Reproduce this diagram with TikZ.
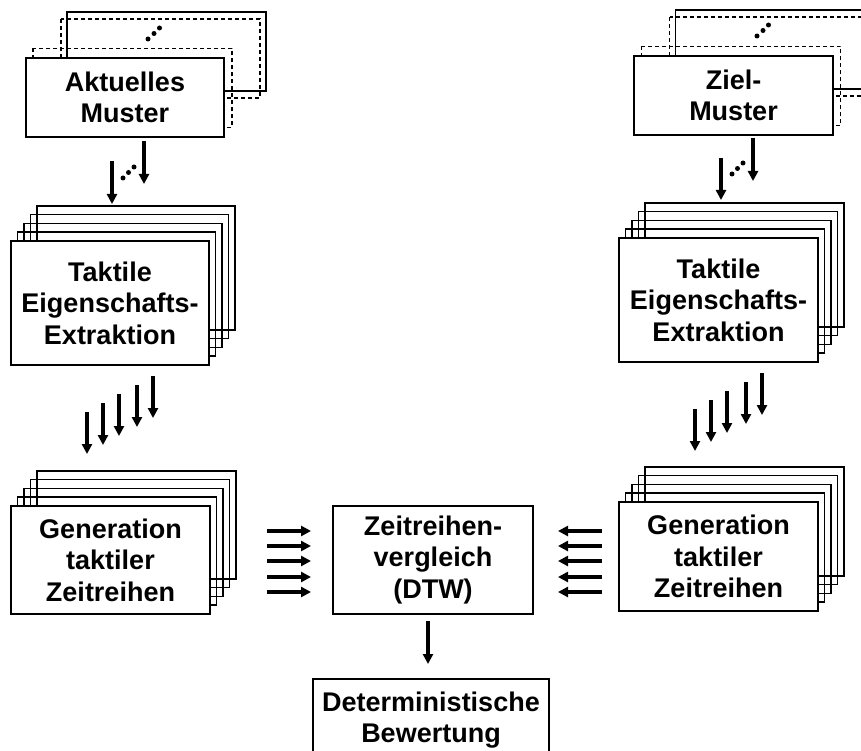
\documentclass[tikz,border=0pt]{standalone}
\usepackage{fontspec}
\setmainfont{Liberation Sans}
\usetikzlibrary{arrows.meta}
\begin{document}
\begin{tikzpicture}[x=1pt,y=-1pt,
  box/.style={draw,line width=1.6pt,fill=white,rectangle,inner sep=0pt,
    align=center,font=\bfseries\fontsize{27}{31.5}\selectfont},
  backbox/.style={draw,line width=1.6pt},
  dashbox/.style={draw,line width=1.6pt,dash pattern=on 4pt off 3pt},
  flow/.style={line width=3.6pt,-{Triangle[length=10pt,width=10pt]}},
  dot/.style={fill,circle,inner sep=0pt,minimum size=5pt}]
\useasboundingbox (0,0) rectangle (861,751);
\clip (0,0) rectangle (861,751);

% ---- pattern inputs (front box plus a dashed / solid pile behind it)
\foreach \cx/\cy in {125/97.5, 733.5/95.5}{
  \draw[dashbox] (\cx-99+7,\cy-39.5-9.5) rectangle ++(199,79);
  \draw[dashbox] (\cx-99+35,\cy-39.5-39) rectangle ++(199,79);
  \draw[backbox] (\cx-99+41,\cy-39.5-46) rectangle ++(199,79);
}
\node[box,minimum width=198pt,minimum height=79pt] (akt) at (125,97.5) {Aktuelles\\Muster};
\node[box,minimum width=199pt,minimum height=79pt] (ziel) at (733.5,95.5) {Ziel-\\Muster};
\node[dot] (d1) at (148,39) {}; \node[dot] (d2) at (154,33.5) {}; \node[dot] (d3) at (159.5,28) {};
\node[dot] (d4) at (757,36) {}; \node[dot] (d5) at (763,30.5) {}; \node[dot] (d6) at (768.5,25) {};

% ---- stacks of five sheets
\foreach \cx/\cy/\w/\h in {110/303/198/124, 718.5/300/199/124, 110.5/560/199/108, 718.5/556.5/199/109}{
  \foreach \k in {4,3,2,1}{
    \draw[backbox] (\cx-\w/2+6.5*\k,\cy-\h/2-8.8*\k) rectangle ++(\w,\h);
  }
}
\node[box,minimum width=198pt,minimum height=124pt] (tl) at (110,303) {Taktile\\Eigenschafts-\\Extraktion};
\node[box,minimum width=199pt,minimum height=124pt] (tr) at (718.5,300) {Taktile\\Eigenschafts-\\Extraktion};
\node[box,minimum width=199pt,minimum height=108pt] (gl) at (110.5,560) {Generation\\taktiler\\Zeitreihen};
\node[box,minimum width=199pt,minimum height=109pt] (gr) at (718.5,556.5) {Generation\\taktiler\\Zeitreihen};

% ---- comparison and rating
\node[box,minimum width=200pt,minimum height=108pt] (dtw) at (433,560) {Zeitreihen-\\vergleich\\(DTW)};
\node[box,minimum width=236pt,minimum height=82pt] (bew) at (431,720) {Deterministische\\Bewertung};

% ---- arrows from the pattern inputs
\coordinate (p1s) at (144,141); \coordinate (p1e) at (144,184);
\coordinate (p2s) at (112,161); \coordinate (p2e) at (112,204);
\coordinate (q1s) at (753,138); \coordinate (q1e) at (753,181);
\coordinate (q2s) at (721,158); \coordinate (q2e) at (721,200);
\draw[flow] (p1s) -- (p1e); \draw[flow] (p2s) -- (p2e);
\draw[flow] (q1s) -- (q1e); \draw[flow] (q2s) -- (q2e);
\node[dot] (e1) at (123,178) {}; \node[dot] (e2) at (128.5,172.5) {}; \node[dot] (e3) at (134,167) {};
\node[dot] (e4) at (732,174) {}; \node[dot] (e5) at (737.5,168.5) {}; \node[dot] (e6) at (743,163) {};

% ---- feature extraction to time series
\foreach \x/\y [count=\i] in {87/412, 103/403, 119/394, 137/385, 153/376}{
  \coordinate (fl\i s) at (\x,\y); \coordinate (fl\i e) at (\x,\y+42);
  \draw[flow] (fl\i s) -- (fl\i e);
}
\foreach \x/\y [count=\i] in {695/409, 711/400, 727/391, 746/382, 762/373}{
  \coordinate (fr\i s) at (\x,\y); \coordinate (fr\i e) at (\x,\y+42);
  \draw[flow] (fr\i s) -- (fr\i e);
}

% ---- time series into the comparison
\foreach \y [count=\i] in {531,546,561,577,592}{
  \coordinate (hl\i s) at (267,\y); \coordinate (hl\i e) at (311,\y);
  \draw[flow] (hl\i s) -- (hl\i e);
  \coordinate (hr\i s) at (602,\y); \coordinate (hr\i e) at (558,\y);
  \draw[flow] (hr\i s) -- (hr\i e);
}

% ---- comparison to rating
\coordinate (ds) at (428,621); \coordinate (de) at (428,664);
\draw[flow] (ds) -- (de);
\end{tikzpicture}
\end{document}
